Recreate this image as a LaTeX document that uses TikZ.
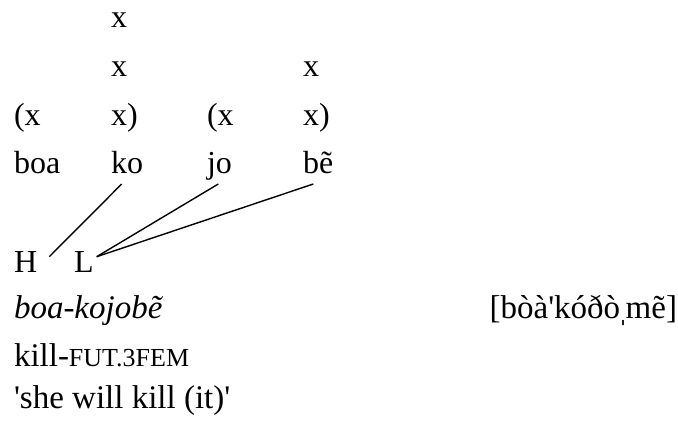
\documentclass[tikz,border=0pt]{standalone}
\usepackage{fontspec}
\setmainfont{Liberation Serif}[Ligatures=TeXOff]
\newcommand{\fakesc}[1]{{\fontsize{26}{30}\selectfont #1}}
\begin{document}
\begin{tikzpicture}[x=1pt,y=-1pt,
  txt/.style={anchor=base west,inner sep=0pt,outer sep=0pt,font=\fontsize{32}{38}\selectfont},
  gtxt/.style={txt,font=\fontsize{33}{38}\selectfont},
  assoc/.style={line width=1.4pt}]
\useasboundingbox (0,0) rectangle (678,426);
% metrical grid
\node[txt] (g1) at (111,27) {x};
\node[txt] (g2) at (111,76) {x};
\node[txt] (g3) at (303,76) {x};
\node[txt] (p1) at (14,125) {(x};
\node[txt] (p2) at (111,125) {x)};
\node[txt] (p3) at (207,125) {(x};
\node[txt] (p4) at (303,125) {x)};
% syllables
\node[txt] (s1) at (14,173) {boa};
\node[txt] (s2) at (111,173) {ko};
\node[txt] (s3) at (207,173) {jo};
\node[txt] (s4) at (303,173) {bẽ};
% tones
\node[txt] (tH) at (14,272) {H};
\node[txt] (tL) at (74,272) {L};
% association endpoints
\coordinate (ko) at (121.7,184);
\coordinate (jo) at (218.3,184);
\coordinate (be) at (313.3,184);
\coordinate (hH) at (49.3,256.7);
\coordinate (hL) at (96.7,256.7);
\draw[assoc] (ko) -- (hH);
\draw[assoc] (jo) -- (hL);
\draw[assoc] (be) -- (hL);
% gloss
\node[gtxt] (w) at (14,318) {\itshape boa-kojobẽ};
\node[gtxt,anchor=base east] (ipa) at (677,318) {[bòà'kóðò\kern-2.5ptˌ\kern-3ptmẽ]};
\node[gtxt] (gl) at (14,366) {kill-\fakesc{FUT.3FEM}};
\node[gtxt] (tr) at (14,408) {'she will kill (it)'};
\end{tikzpicture}
\end{document}
